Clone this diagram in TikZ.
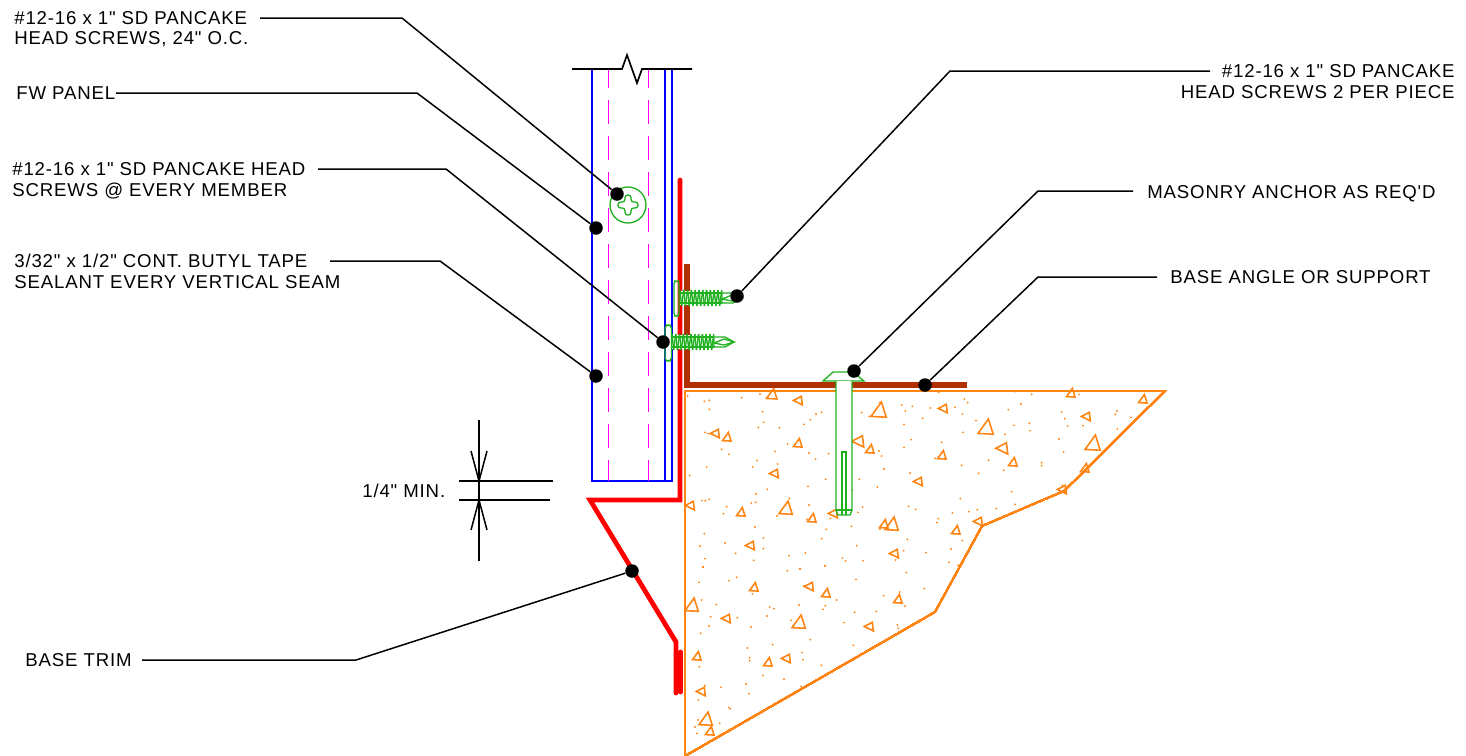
\documentclass[tikz,border=0pt]{standalone}
\usepackage{fontspec}
\newfontfamily\cadfont[LetterSpace=4.5]{Liberation Sans}
\usepackage{tikz}
\usetikzlibrary{calc}
\usetikzlibrary{positioning}
\definecolor{trimred}{HTML}{FF0000}
\definecolor{angbrown}{HTML}{B03000}
\definecolor{concorange}{HTML}{FF8412}
\definecolor{fasgreen}{HTML}{20B020}
\definecolor{panelblue}{HTML}{0000FF}
\definecolor{clmagenta}{HTML}{FF00FF}
\tikzstyle{lbl} = [inner sep=0pt, text height=7.5pt, text depth=0pt, anchor=west, font=\cadfont\fontsize{10.6}{12}\selectfont]
\tikzstyle{lblr} = [lbl, anchor=east]
\tikzstyle{blackdot} = [circle, fill=black, inner sep=0pt, minimum size=0.27cm]
\tikzstyle{leader} = [black, line width=0.85pt]
\tikzstyle{panel} = [panelblue, line width=1.55pt]
\tikzstyle{panelcl} = [clmagenta, line width=0.75pt, dash pattern=on 0.48cm off 0.24cm, dash phase=0.1cm]
\tikzstyle{trim} = [trimred, line width=2.7pt, line join=miter, line cap=round]
\tikzstyle{fas} = [fasgreen, line width=0.75pt]
\tikzstyle{thread} = [fasgreen, line width=0.8pt]
\tikzstyle{speck} = [concorange]
\tikzstyle{aggr} = [concorange, line width=0.9pt, line join=miter]
\newcommand{\aggrtri}[4]{\draw[aggr, shift={(#1,#2)}, rotate=#3, scale=#4] (-1,0.8) -- (0.3,-1) -- (0.9,0.9) -- cycle;}
\newcommand{\tekscrew}[2]{
  \begin{scope}[shift={(#1,#2)}]
    \fill[white] (0,-7) rectangle (42,7);
    \foreach \k in {0,...,10} {
      \draw[thread] ($(\k*3.8,-8)$) -- ($(\k*3.8+1.6,8)$);
      \draw[thread] ($(\k*3.8+1.6,8)$) -- ($(\k*3.8+3.8,-8)$);
    }
    \draw[thread] (0,-5) -- (42,-5);
    \draw[thread] (0,5) -- (42,5);
    \draw[fas, fill=white] (42,-5) -- (53,-5) -- (62,0) -- (53,5) -- (42,5) -- cycle;
    \draw[fas] (42,1) -- (52,-3) -- (62,0) -- (52,3) -- cycle;
  \end{scope}
}
\begin{document}
\begin{tikzpicture}[x=0.02cm, y=-0.02cm]
\useasboundingbox (0,0) rectangle (1466,755);

% concrete
\begin{scope}[shift={(685,385)}, x=0.006667cm, y=-0.006667cm]
\foreach \dx/\dy in {8/33,58/49,73/46,73/73,170/38,225/27,233/80,236/112,220/127,283/128,357/118,376/104,393/87,410/82,530/83,553/94,585/52,650/60,661/78,682/64,713/100,657/118,678/164,657/187,60/142,69/146,110/193,132/208,308/177,270/199,372/204,392/222,431/206,582/198,590/213,216/227,203/246,278/237,65/246,14/271,597/252,675/264,422/283,523/283,577/306,369/304,247/313,213/327,502/315,313/340,51/347,61/347,73/343,199/354,212/352,125/365,115/386,372/360,533/366,519/382,671/364,692/373,276/393,366/403,436/400,210/426,424/433,499/424,58/446,235/459,410/461,120/474,667/463,45/483,235/491,515/482,656/497,152/505,312/512,361/504,60/521,206/526,472/519,482/528,534/527,54/546,420/542,345/551,632/525,585/432}
  \fill[speck] (\dx,\dy) circle (0.6pt);
\end{scope}
\begin{scope}[shift={(925,385)}, x=0.006667cm, y=-0.006667cm]
\foreach \dx/\dy in {41/22,118/42,128/53,16/69,90/67,112/87,250/74,288/57,320/28,462/28,270/20,410/81,419/101,428/123,474/122,576/78,571/88,618/97,577/132,153/107,267/121,313/115,315/137,114/142,240/148,402/162,50/172,416/201,30/220,110/241,191/226,236/256,350/233,350/242,161/265,260/320,412/301,106/341,270/358,214/371,157/374,132/380,82/384,40/401,36/413,112/467,78/492,3/503,72/532,99/541}
  \fill[speck] (\dx,\dy) circle (0.6pt);
\end{scope}
\begin{scope}[shift={(685,565)}, x=0.006667cm, y=-0.006667cm]
\foreach \dx/\dy in {54/6,42/52,132/47,155/37,307/17,345/12,420/3,513/43,664/23,718/71,202/87,357/63,50/105,94/119,254/126,267/131,246/153,342/120,421/122,414/133,455/105,596/92,644/81,660/123,574/139,509/142,77/155,157/158,72/183,198/186,318/166,477/173,637/180,640/190,566/199,47/205,376/224,263/239,187/249,505/241,351/263,354/284,194/278,194/287,43/305,409/301,234/331,297/342,183/357,60/362,108/367,348/364,192/386,40/405,132/428,136/432,39/465,104/475,30/486,36/505}
  \fill[speck] (\dx,\dy) circle (0.6pt);
\end{scope}
\foreach \tx/\ty/\tr/\ts in {772/394/0/5.5,798/401/100/4.5,879/410/0/8,715/434/100/4.5,727/437/0/4.5,798/443/0/4.5,858/442/100/6,870/449/0/4.5,774/474/100/4.5,918/482/100/4.5,690/506/100/4.5,786/508/0/7,741/512/0/4.5,812/518/0/4.5,833/514/100/4.5,892/524/0/7,884/524/0/4.5,750/546/100/4.5,894/554/100/4.5,943/409/100/4.5,986/427/0/8,1002/449/100/6,1013/462/0/4.5,942/455/0/4.5,1086/417/100/4.5,1093/443/0/8,1143/399/0/4.5,1071/393/0/4.5,1085/468/0/4.5,1062/490/100/4.5,978/522/100/4.5,956/530/0/4.5,754/587/0/4.5,809/587/100/4.5,826/593/0/4.5,898/599/0/4.5,692/605/0/7,726/619/100/4.5,799/622/0/7,869/627/100/4.5,697/656/0/4.5,768/662/0/4.5,786/659/100/4.5,701/692/100/4.5,706/719/0/7,710/731/0/4.5}
  \aggrtri{\tx}{\ty}{\tr}{\ts}
\draw[concorange, line width=0.9pt, line join=miter] (685,756) -- (685,391) -- (1165,391) -- (1064,491) -- (982,526) -- (935,612) -- (685,756);

% base angle and trim
\draw[angbrown, line width=2.9pt, line join=miter] (687,264) -- (687,385) -- (967,385);
\draw[trim] (680,180) -- (680,500) -- (590,500) -- (676,642) -- (676,693);
\draw[trim] (680.5,652) -- (680.5,692);

% panel
\draw[panel] (592,69) -- (592,481) -- (672,481) -- (672,69);
\draw[panel] (665,69) -- (665,481);
\draw[panelcl] (608.5,69) -- (608.5,481);
\draw[panelcl] (648.5,69) -- (648.5,481);
\draw[black, line width=0.95pt] (572,69) -- (622,69) -- (627,55) -- (637,83) -- (642,69) -- (692,69);

% fasteners
\draw[fas] (628,205) circle (18);
\draw[fas, rounded corners=1.5pt] (625,195) -- (631,195) -- (631,202) -- (638,202) -- (638,208) -- (631,208) -- (631,215) -- (625,215) -- (625,208) -- (618,208) -- (618,202) -- (625,202) -- cycle;
\draw[fas, rounded corners=1.5pt] (674,281) rectangle (679,316);
\draw[fas, rounded corners=2pt] (665,325) rectangle (671.5,361);
\tekscrew{680}{298}
\tekscrew{672}{342}
\draw[fas, fill=white] (823,381) -- (833,372) -- (853,372) -- (864,381) -- cycle;
\draw[fas, fill=white] (836,381) -- (836,510) -- (838,515) -- (850,515) -- (852,510) -- (852,381);
\draw[fas] (842,515) -- (842,452) -- (846,452) -- (846,515);
\draw[fas] (836,510) -- (852,510);

% dimension
\coordinate (dimtop) at (479,420);
\coordinate (dimbot) at (479,561);
\coordinate (dimA) at (479,481);
\coordinate (dimB) at (479,500);
\coordinate (extAl) at (459,481);
\coordinate (extAr) at (553,481);
\coordinate (extBl) at (459,500);
\coordinate (extBr) at (550,500);
\draw[leader] (dimtop) -- (dimbot);
\draw[leader] (extAl) -- (extAr);
\draw[leader] (extBl) -- (extBr);
\draw[leader] ($(dimA)+(-8,-30)$) -- (dimA) -- ($(dimA)+(8,-30)$);
\draw[leader] ($(dimB)+(-8,30)$) -- (dimB) -- ($(dimB)+(8,30)$);
\node[lbl] (lblmin) at (362,491) {1/4" MIN.};

% labels
\node[lbl] (lblA) at (14,18) {\#12-16 x 1" SD PANCAKE};
\node[lbl] (lblAb) at (14,38) {HEAD SCREWS, 24" O.C.};
\node[lbl] (lblB) at (16,93) {FW PANEL};
\node[lbl] (lblC) at (12,169) {\#12-16 x 1" SD PANCAKE HEAD};
\node[lbl] (lblCb) at (12,190) {SCREWS @ EVERY MEMBER};
\node[lbl] (lblD) at (14,261) {3/32" x 1/2" CONT. BUTYL TAPE};
\node[lbl] (lblDb) at (14,282) {SEALANT EVERY VERTICAL SEAM};
\node[lbl] (lblE) at (25,660) {BASE TRIM};
\node[lblr] (lblF) at (1455,71) {\#12-16 x 1" SD PANCAKE};
\node[lblr] (lblFb) at (1455,92) {HEAD SCREWS 2 PER PIECE};
\node[lbl] (lblG) at (1147,192) {MASONRY ANCHOR AS REQ'D};
\node[lbl] (lblH) at (1170,277) {BASE ANGLE OR SUPPORT};

\node[blackdot] (dotA) at (617,194) {};
\node[blackdot] (dotB) at (596,228) {};
\node[blackdot] (dotC) at (663,342) {};
\node[blackdot] (dotD) at (596,376) {};
\node[blackdot] (dotE) at (632,571) {};
\node[blackdot] (dotF) at (737,296) {};
\node[blackdot] (dotG) at (854,371) {};
\node[blackdot] (dotH) at (925,385) {};

\coordinate (startA) at (260,18);
\coordinate (bendA) at (402,18);
\coordinate (startB) at (116,93);
\coordinate (bendB) at (417,93);
\coordinate (startC) at (318,169);
\coordinate (bendC) at (446,169);
\coordinate (startD) at (330,261);
\coordinate (bendD) at (440,261);
\coordinate (startE) at (142,660);
\coordinate (bendE) at (356,660);
\coordinate (startF) at (1210,71);
\coordinate (bendF) at (950,71);
\coordinate (startG) at (1133,191);
\coordinate (bendG) at (1038,191);
\coordinate (startH) at (1157,277);
\coordinate (bendH) at (1038,277);
\foreach \t in {A,B,C,D,E,F,G,H}
  \draw[leader] (start\t) -- (bend\t) -- (dot\t);
\end{tikzpicture}
\end{document}
